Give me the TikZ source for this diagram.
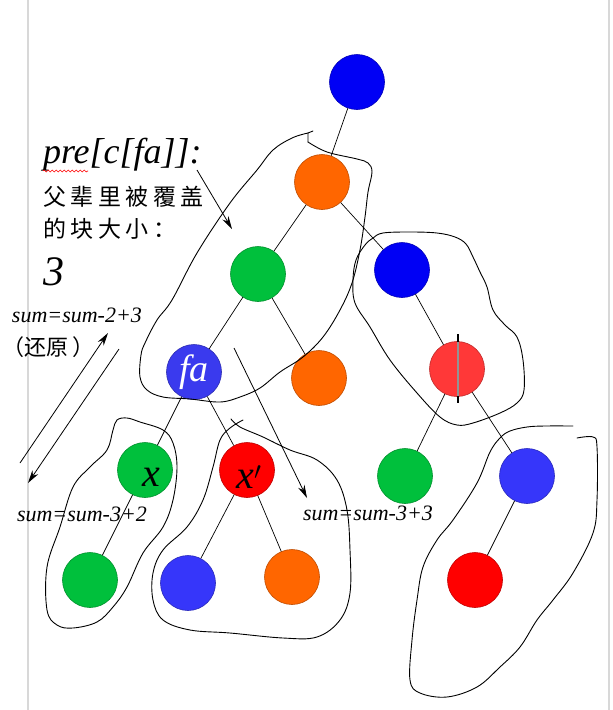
\documentclass[tikz,border=0pt]{standalone}
\usepackage{fontspec}
\setmainfont{Liberation Serif}
\newfontfamily\cjk[LetterSpace=20]{Noto Sans CJK SC}
\newfontfamily\cjkp{Noto Sans CJK SC}
\usetikzlibrary{arrows.meta,decorations.pathmorphing,calc}
\definecolor{cblue}{HTML}{0000F5}
\definecolor{cbluefa}{HTML}{3A3AEE}
\definecolor{cblueb}{HTML}{3636FA}
\definecolor{corange}{HTML}{FF6600}
\definecolor{cgreen}{HTML}{00C03C}
\definecolor{cred}{HTML}{FF0000}
\definecolor{credl}{HTML}{FF3838}
\definecolor{cmargin}{HTML}{D8D8D8}
\begin{document}
\begin{tikzpicture}[x=1pt,y=-1pt,
  ball/.style={circle, minimum size=55pt, inner sep=0pt, line width=0.6pt, fill=#1, draw=#1!75!black},
  edge/.style={line width=0.7pt},
  blob/.style={line width=0.9pt, line join=round, line cap=round},
  arr/.style={line width=0.8pt, -{Stealth[length=13pt,width=7pt]}},
  lbl/.style={inner sep=0pt, outer sep=0pt}]
\useasboundingbox (0,0) rectangle (613,710);
\fill[white] (0,0) rectangle (613,710);
% page margins
\draw[cmargin, line width=1.5pt] (28,0) -- (28,710);
\draw[cmargin, line width=1.5pt] (609,0) -- (609,710);

% nodes
\node[ball=cblue]   (root) at (357,82)  {};
\node[ball=corange] (o1)   at (322,182) {};
\node[ball=cgreen]  (g1)   at (258,274) {};
\node[ball=cblue]   (b1)   at (402,270) {};
\node[ball=cbluefa] (fa)   at (194,372) {\fontsize{38}{40}\selectfont\itshape\color{white}fa};
\node[ball=corange] (o2)   at (319,378) {};
\node[ball=credl]   (r1)   at (457,369) {};
\node[ball=cgreen]  (gx)   at (145,470) {};
\node[ball=cred]    (rx)   at (247,470) {};
\node[ball=cgreen]  (g2)   at (405,476) {};
\node[ball=cblueb]  (b2)   at (527,476) {};
\node[ball=cgreen]  (g3)   at (90,580)  {};
\node[ball=cblueb]  (b3)   at (188,583) {};
\node[ball=corange] (o3)   at (292,577) {};
\node[ball=cred]    (r2)   at (475,580) {};

% edges
\draw[edge] (root) -- (o1);
\draw[edge] (o1) -- (g1);
\draw[edge] (o1) -- (b1);
\draw[edge] (g1) -- (fa);
\draw[edge] (g1) -- (o2);
\draw[edge] (b1) -- (r1);
\draw[edge] (fa) -- (gx);
\draw[edge] (fa) -- (rx);
\draw[edge] (r1) -- (g2);
\draw[edge] (r1) -- (b2);
\draw[edge] (gx) -- (g3);
\draw[edge] (rx) -- (b3);
\draw[edge] (rx) -- (o3);
\draw[edge] (b2) -- (r2);

% split mark through r1
\draw[line width=2pt] ($(r1.north)+(1,-7)$) -- ($(r1.north)+(1,1)$);
\draw[line width=2pt] ($(r1.south)+(1,-1)$) -- ($(r1.south)+(1,6)$);
\draw[gray!85, line width=2.5pt] ($(r1.north)+(1,1)$) -- ($(r1.south)+(1,-1)$);

% hand-drawn outlines
\draw[blob] (313,131) -- (308,133) -- (308,142);
\draw[blob] plot[smooth, tension=0.6] coordinates {
 (308,142) (327,152) (357,159) (368,163) (372,172) (368,192) (365,217) (360,250)
 (352,283) (340,310) (323,337) (303,357) (280,372) (260,388) (240,397) (220,402)
 (190,399) (163,397) (147,390) (140,377) (141,355) (145,343) (157,320) (172,300)
 (197,253) (230,203) (257,170) (273,150) (292,138) (308,133)};
\draw[blob] plot[smooth cycle, tension=0.6] coordinates {
 (383,233) (410,232) (437,233) (455,237) (466,244) (473,257) (480,272) (487,287)
 (493,310) (505,325) (517,337) (523,360) (524,390) (517,403) (500,413) (473,423)
 (457,425) (440,417) (417,393) (390,360) (370,327) (355,303) (353,280) (356,260)
 (365,245) (373,238)};
\draw[blob] plot[smooth cycle, tension=0.6] coordinates {
 (117,420) (127,418) (140,422) (163,430) (173,443) (177,467) (173,500) (163,527)
 (143,553) (127,587) (113,607) (97,622) (73,628) (57,625) (47,610) (47,567)
 (60,527) (73,487) (90,467) (107,450) (113,430)};
\draw[blob] plot[smooth, tension=0.6] coordinates {
 (231,419) (240,427) (263,437) (290,450) (317,460) (337,480) (347,510) (350,550)
 (350,593) (340,620) (317,637) (283,638) (230,633) (190,630) (163,620) (153,600)
 (153,573) (163,550) (187,527) (203,500) (213,467) (220,440) (230,428) (243,420)};
\draw[blob] plot[smooth, tension=0.6] coordinates {
 (573,426) (545,426) (527,427) (510,431) (500,438) (490,452) (477,483) (453,520)
 (437,540) (423,567) (417,600) (412,640) (410,680) (420,693) (447,697) (477,687)
 (500,667) (520,647) (537,620) (553,600) (573,573) (593,533) (597,500) (597,447)
 (593,437) (577,438)};

% arrows
\coordinate (a1s) at (197,170); \coordinate (a1e) at (232,229);
\coordinate (a2s) at (234,348); \coordinate (a2e) at (307,498);
\coordinate (a3s) at (20,463);  \coordinate (a3e) at (108,333);
\coordinate (a4s) at (119,349); \coordinate (a4e) at (28,483);
\draw[arr] (a1s) -- (a1e);
\draw[arr] (a2s) -- (a2e);
\draw[arr] (a3s) -- (a3e);
\draw[arr] (a4s) -- (a4e);

% texts
\node[lbl, anchor=base west] (pre) at (43,163) {\fontsize{36}{40}\selectfont\itshape pre[c[fa]]:};
\draw[red, line width=0.6pt, decorate, decoration={snake, amplitude=1pt, segment length=4pt}] (43,171) -- (88,171);
\node[lbl, anchor=west] (cn1) at (43,197) {\fontsize{23}{26}\selectfont\cjk 父辈里被覆盖};
\node[lbl, anchor=west] (cn2) at (43,229) {\fontsize{23}{26}\selectfont\cjk 的块大小\hspace{5pt}：};
\node[lbl, anchor=base west] (three) at (43,285) {\fontsize{42}{46}\selectfont\itshape 3};
\node[lbl, anchor=base west] (s1) at (12,322) {\fontsize{22}{24}\selectfont\itshape sum=sum-2+3};
\node[lbl, anchor=west] (hy) at (2,347) {\fontsize{22}{24}\selectfont\cjkp （还原\hspace{5pt}）};
\node[lbl, anchor=base west] (s2) at (17,521) {\fontsize{22}{24}\selectfont\itshape sum=sum-3+2};
\node[lbl, anchor=base west] (s3) at (303,520) {\fontsize{22}{24}\selectfont\itshape sum=sum-3+3};
\node[lbl] (xl) at (151,477) {\fontsize{40}{44}\selectfont\itshape x};
\node[lbl] (xpl) at (249,477) {\fontsize{40}{44}\selectfont\itshape x$'$};
\end{tikzpicture}
\end{document}
